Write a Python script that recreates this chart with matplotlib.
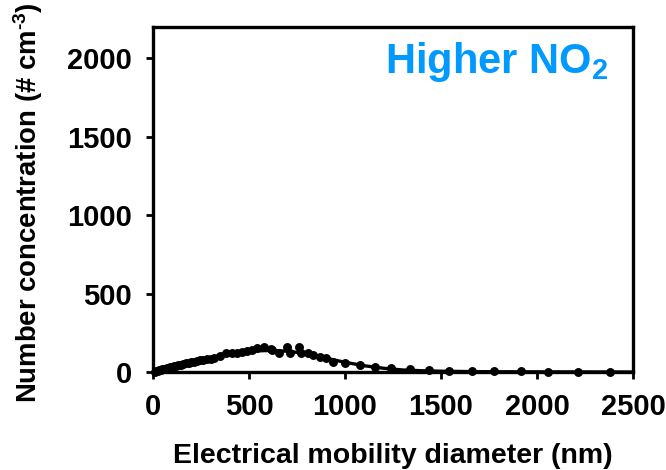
import matplotlib
matplotlib.use("Agg")
import matplotlib.pyplot as plt

plt.rcParams['font.family'] = ['Liberation Sans', 'DejaVu Sans']
plt.rcParams['font.weight'] = 'bold'
plt.rcParams['mathtext.fontset'] = 'custom'
plt.rcParams['mathtext.rm'] = 'Liberation Sans:bold'
plt.rcParams['mathtext.bf'] = 'Liberation Sans:bold'
plt.rcParams['mathtext.it'] = 'Liberation Sans:bold'

# measured points (diameter nm, number concentration # cm^-3)
diam = [12, 18, 25, 32, 40, 48, 56, 64, 72, 80, 90, 100, 110, 120, 132, 145,
        158, 172, 186, 200, 215, 230, 245, 262, 280, 300, 320, 350, 381, 412,
        438, 464, 490, 515, 541, 577, 613, 619, 655, 696, 716, 758, 773, 809,
        835, 871, 902, 938, 1000, 1077, 1155, 1237, 1340, 1438, 1541, 1660,
        1778, 1918, 2057, 2211, 2381]
conc = [3, 5, 8, 10, 13, 16, 19, 22, 25, 28, 31, 34, 37, 40, 43, 47,
        50, 55, 58, 62, 66, 70, 74, 78, 82, 86, 89, 105, 121, 121,
        121, 128, 134, 141, 153, 160, 147, 141, 121, 160, 121, 160, 121, 121,
        109, 96, 89, 64, 57, 45, 32, 28, 18, 12, 9, 7,
        5, 4, 3, 2, 2]

# fitted curve
fit_d = [0, 50, 100, 150, 200, 250, 300, 350, 400, 450, 500, 550, 600, 650,
         700, 750, 800, 850, 900, 950, 1000, 1100, 1200, 1300, 1400, 1500,
         1700, 2000, 2500]
fit_c = [0, 14, 30, 46, 62, 77, 91, 104, 115, 124, 131, 135, 137, 136,
         132, 125, 115, 103, 89, 75, 62, 40, 24, 13, 8, 5,
         2, 1, 0]

xticks = [0, 500, 1000, 1500, 2000, 2500]
yticks = [0, 500, 1000, 1500, 2000]

fig = plt.figure(figsize=(6.66, 4.70), dpi=100)
ax = fig.add_axes([0.2297, 0.2085, 0.9505 - 0.2297, 0.9426 - 0.2085])

ax.plot(fit_d, fit_c, color='black', lw=2.4, zorder=2)
ax.plot(diam, conc, 'o', color='black', ms=5.4, zorder=3, clip_on=False)

ax.set_xlim(0, 2500)
ax.set_ylim(0, 2200)
ax.set_xticks(xticks)
ax.set_yticks(yticks)
ax.tick_params(direction='out', length=5, width=2, labelsize=21, pad=10)
for lab in ax.get_xticklabels() + ax.get_yticklabels():
    lab.set_fontweight('bold')
for s in ax.spines.values():
    s.set_linewidth(2.4)

ax.set_xlabel('Electrical mobility diameter (nm)', fontsize=20.5,
              fontweight='bold')
ax.xaxis.set_label_coords(0.5, -0.205)
ax.set_ylabel(r'Number concentration (# cm$^{\text{-}3}$)', fontsize=19.8,
              fontweight='bold')
ax.yaxis.set_label_coords(-0.225, 0.49)

ax.text(0.948, 0.866, 'Higher NO$_2$', transform=ax.transAxes, ha='right',
        va='baseline', fontsize=30, fontweight='bold', color='#0099ff')

fig.savefig('out.png', dpi=100)
